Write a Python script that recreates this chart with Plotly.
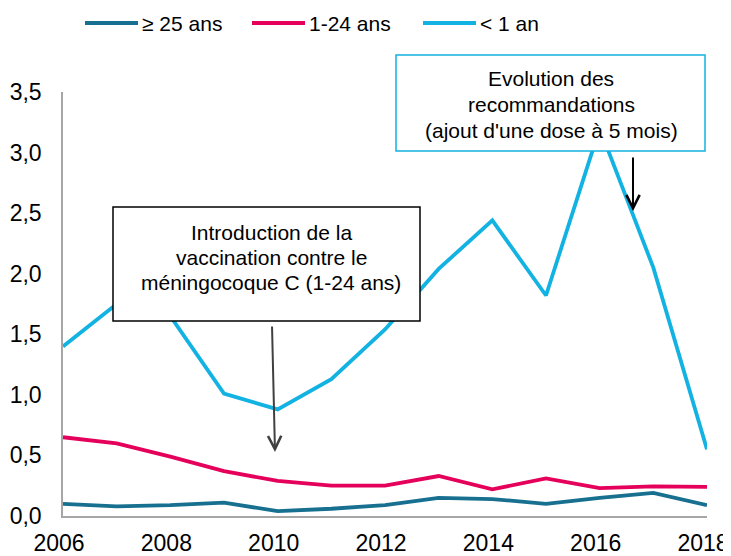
import plotly.graph_objects as go

years = list(range(2006, 2019))
s_25plus = [0.10, 0.08, 0.09, 0.11, 0.04, 0.06, 0.09, 0.15, 0.14, 0.10, 0.15, 0.19, 0.09]
s_1_24 = [0.65, 0.60, 0.49, 0.37, 0.29, 0.25, 0.25, 0.33, 0.22, 0.31, 0.23, 0.245, 0.24]
s_lt1 = [1.40, 1.75, 1.65, 1.01, 0.88, 1.13, 1.54, 2.04, 2.44, 1.82, 3.20, 2.05, 0.55]
series_names = ["≥ 25 ans", "1-24 ans", "< 1 an"]
colors = ["#17708F", "#E5005B", "#12B2E2"]
x_ticks = [2006, 2008, 2010, 2012, 2014, 2016, 2018]
y_ticks = [0, 0.5, 1.0, 1.5, 2.0, 2.5, 3.0, 3.5]
y_labels = [f"{v:.1f}".replace(".", ",") for v in y_ticks]
box1_lines = ["Introduction de la", "vaccination contre le", "méningocoque C (1-24 ans)"]
box2_lines = ["Evolution des", "recommandations", "(ajout d'une dose à 5 mois)"]

SANS = "Liberation Sans, Arial, sans-serif"

# window pixel -> paper helpers (page body has 8px margin; plot spans 63..707 x 92..516)
PL, PR, PT, PB = 63, 707, 92, 516
def px(x):
    return (x - PL) / (PR - PL)
def py(y):
    return (PB - y) / (PB - PT)

fig = go.Figure()
for name, vals, col in zip(series_names, [s_25plus, s_1_24, s_lt1], colors):
    fig.add_trace(go.Scatter(x=years, y=vals, mode="lines", name=name,
                             line=dict(color=col, width=3.8), showlegend=False))

# Custom legend (line sample + label)
leg_line_x = [85, 252, 423]
for name, col, lx in zip(series_names, colors, leg_line_x):
    fig.add_shape(type="line", xref="paper", yref="paper", x0=px(lx), x1=px(lx + 53),
                  y0=py(23), y1=py(23), line=dict(color=col, width=4))
    fig.add_annotation(xref="paper", yref="paper", x=px(lx + 55), y=py(24), text=name,
                       showarrow=False, xanchor="left", yanchor="middle",
                       font=dict(family=SANS, size=21, color="black"))

# Annotation boxes
fig.add_shape(type="rect", xref="paper", yref="paper", x0=px(113), x1=px(420), y0=py(321), y1=py(207),
              line=dict(color="black", width=1.5), fillcolor="white", layer="above")
fig.add_shape(type="rect", xref="paper", yref="paper", x0=px(396), x1=px(705), y0=py(151), y1=py(55),
              line=dict(color="#12B2E2", width=1.5), fillcolor="white", layer="above")

for txt, yy in zip(box1_lines, [232, 257, 282]):
    fig.add_annotation(xref="paper", yref="paper", x=px(271), y=py(yy), text=txt, showarrow=False,
                       xanchor="center", yanchor="middle",
                       font=dict(family=SANS, size=21, color="black"))
for txt, yy in zip(box2_lines, [78, 104, 130]):
    fig.add_annotation(xref="paper", yref="paper", x=px(551), y=py(yy), text=txt, showarrow=False,
                       xanchor="center", yanchor="middle",
                       font=dict(family=SANS, size=21, color="black"))

# Arrows
fig.add_annotation(xref="paper", yref="paper", x=px(275), y=py(452), ax=-3, ay=-127,
                   showarrow=True, arrowhead=5, arrowsize=1.3, arrowwidth=2,
                   arrowcolor="#404040", text="")
fig.add_annotation(xref="paper", yref="paper", x=px(633), y=py(211), ax=0, ay=-55,
                   showarrow=True, arrowhead=5, arrowsize=1.3, arrowwidth=2,
                   arrowcolor="black", text="")

fig.update_layout(
    width=723, height=548,
    margin=dict(l=55, r=24, t=84, b=40, autoexpand=False),
    plot_bgcolor="white", paper_bgcolor="white",
    showlegend=False,
    xaxis=dict(range=[2006, 2018], tickvals=x_ticks, showgrid=False, zeroline=False,
               showline=True, linecolor="#A6A6A6", linewidth=1.5, ticks="",
               automargin=False, ticklabeloverflow="allow", ticklabelstandoff=6,
               ticklabelshift=-4,
               tickfont=dict(family=SANS, size=23, color="black")),
    yaxis=dict(range=[0, 3.5], tickvals=y_ticks, ticktext=y_labels, showgrid=False,
               zeroline=False, showline=True, linecolor="#A6A6A6", linewidth=1.5, ticks="",
               automargin=False, ticklabelstandoff=15,
               tickfont=dict(family=SANS, size=23, color="black")),
)

fig.write_html("out.html")
